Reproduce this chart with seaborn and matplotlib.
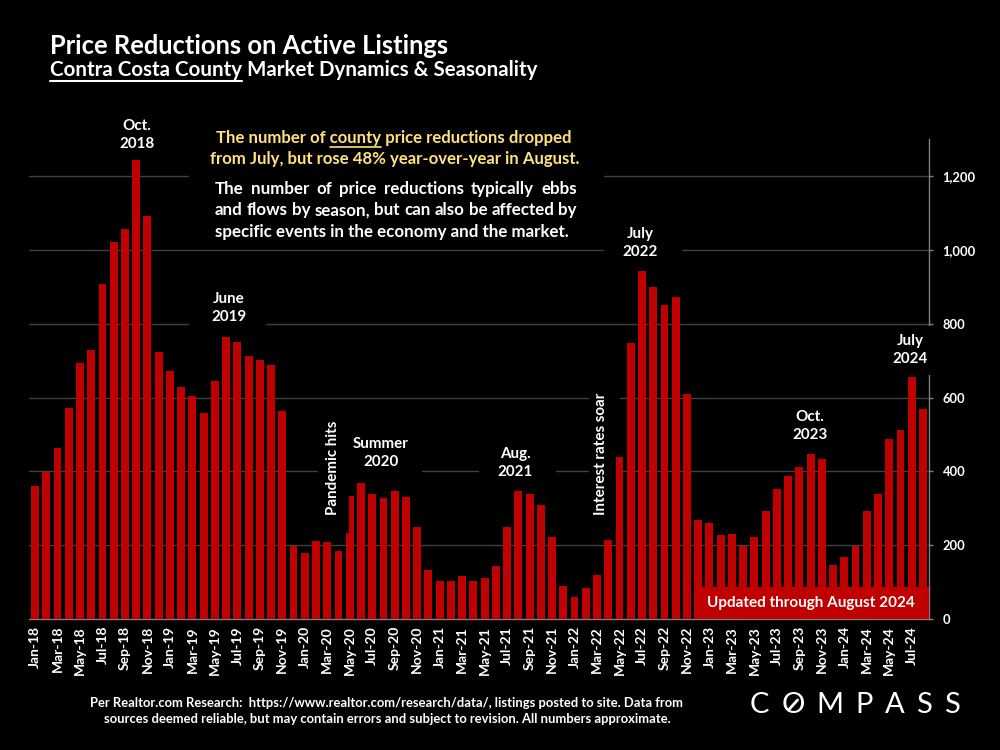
import numpy as np
import pandas as pd
import matplotlib
matplotlib.use("Agg")
import matplotlib.pyplot as plt
import matplotlib.transforms as mtransforms
from matplotlib.patches import Rectangle
from matplotlib.lines import Line2D
from matplotlib.ticker import FuncFormatter
import seaborn as sns

# ---------------- data ----------------
months = pd.date_range("2018-01-01", "2024-08-01", freq="MS").strftime("%b-%y").tolist()
reductions_2018 = [360, 398, 464, 573, 695, 728, 907, 1021, 1056, 1243, 1091, 724]
reductions_2019 = [672, 630, 604, 558, 646, 765, 750, 712, 702, 687, 564, 197]
reductions_2020 = [179, 211, 210, 185, 333, 368, 340, 327, 348, 331, 249, 133]
reductions_2021 = [104, 102, 117, 102, 111, 143, 248, 346, 338, 308, 223, 90]
reductions_2022 = [60, 83, 119, 215, 439, 748, 944, 900, 852, 872, 610, 267]
reductions_2023 = [260, 227, 230, 197, 222, 293, 352, 387, 413, 446, 434, 147]
reductions_2024 = [168, 198, 292, 340, 489, 512, 656, 569]
reductions = (reductions_2018 + reductions_2019 + reductions_2020 + reductions_2021
              + reductions_2022 + reductions_2023 + reductions_2024)
y_ticks = [0, 200, 400, 600, 800, 1000, 1200]

title = "Price Reductions on Active Listings"
subtitle_underlined = "Contra Costa County"
subtitle_rest = " Market Dynamics & Seasonality"
highlight_lines = ["The number of county price reductions dropped",
                   "from July, but rose 48% year-over-year in August."]
highlight_word = "The number of county"
body_lines = ["The number of price reductions typically ebbs",
              "and flows by season, but can also be affected by",
              "specific events in the economy and the market."]
footer_lines = ["Per Realtor.com Research:  https://www.realtor.com/research/data/, listings posted to site. Data from",
                "sources deemed reliable, but may contain errors and subject to revision. All numbers approximate."]
updated_text = "Updated through August 2024"
logo_letters = list("COMPASS")

RED = "#C00000"
GRID = "#404040"
AXGREY = "#7F7F7F"
YELLOW = "#FFE27C"

# ---------------- style ----------------
sns.set_theme(style="dark")
plt.rcParams["font.family"] = ["Lato", "DejaVu Sans"]
plt.rcParams["font.weight"] = "bold"
plt.rcParams["text.color"] = "white"

W, H = 1000, 750
ID = mtransforms.IdentityTransform()
fig = plt.figure(figsize=(W / 100, H / 100), dpi=100)
fig.patch.set_facecolor("black")
ax = fig.add_axes([29.4 / W, 1 - 619 / H, 899.2 / W, (619 - 139.3) / H])
ax.set_facecolor("black")
R = fig.canvas.get_renderer()


def measure(s, size, **kw):
    t = fig.text(0, 0, s, fontsize=size, transform=ID, **kw)
    w = t.get_window_extent(renderer=R).width
    t.remove()
    return w


def size_for(s, target, base=12.0, **kw):
    return base * target / measure(s, base, **kw)


df = pd.DataFrame({"month": months, "reductions": reductions})
sns.barplot(data=df, x="month", y="reductions", color=RED, saturation=1,
            width=0.7, linewidth=0, ax=ax, zorder=3)
n = len(months)
ax.set_xlim(-0.5, n - 0.5)
ax.set_ylim(0, 1300)
ax.set_xlabel("")
ax.set_ylabel("")

xsize = size_for("Jan-18", 42)
ysize = size_for("1,200", 32.7)

ax.set_xticks(np.arange(0, n, 2))
ax.set_xticklabels(months[::2], rotation=90)
ax.set_xticks(np.arange(-0.5, n, 2), minor=True)
ax.tick_params(axis="x", which="major", length=0, pad=5, labelsize=xsize, labelcolor="white")
ax.tick_params(axis="x", which="minor", length=5, width=1, color=AXGREY)

ax.yaxis.tick_right()
ax.set_yticks(y_ticks)
ax.yaxis.set_major_formatter(FuncFormatter(lambda v, p: f"{v:,.0f}"))
ax.tick_params(axis="y", which="major", length=3, width=1, color=AXGREY, pad=7,
               labelsize=ysize, labelcolor="white", left=False, right=True,
               labelleft=False, labelright=True)

ax.grid(axis="y", color=GRID, linewidth=1)
ax.grid(axis="x", visible=False)
ax.set_axisbelow(True)
for s in ["left", "top"]:
    ax.spines[s].set_visible(False)
for s in ["right", "bottom"]:
    ax.spines[s].set_visible(True)
    ax.spines[s].set_color(AXGREY)
    ax.spines[s].set_linewidth(1)


def pbox(x0, y0, x1, y1, z=2, color="black"):
    ax.add_patch(Rectangle((x0, H - y1), x1 - x0, y1 - y0, transform=ID,
                           facecolor=color, edgecolor="none", zorder=z, clip_on=False))


def ptxt(x, y, s, **kw):
    return ax.text(x, H - y, s, transform=ID, **kw)


# ---------------- label backgrounds ----------------
pbox(189, 118, 604, 244)          # commentary block
pbox(189, 283, 266, 331)          # June 2019
pbox(318, 405, 349, 533, z=4)     # Pandemic hits
pbox(341, 432, 422, 478)          # Summer 2020
pbox(479, 440, 556, 486)          # Aug. 2021
pbox(589, 385, 620, 528)          # Interest rates soar
pbox(604, 222, 682, 262)          # July 2022
pbox(876, 326, 934, 375, z=2.7)   # July 2024

# ---------------- event labels ----------------
ev = size_for("Interest rates soar", 122)
lab_kw = dict(ha="center", va="center", fontsize=ev, color="white", linespacing=1.3)
ptxt(137, 135, "Oct.\n2018", zorder=2.1, **lab_kw)
ptxt(229, 308, "June\n2019", zorder=2.1, **lab_kw)
ptxt(333, 468, "Pandemic hits", rotation=90, zorder=4.1, **lab_kw)
ptxt(381, 453, "Summer\n2020", zorder=2.1, **lab_kw)
ptxt(515, 463, "Aug.\n2021", zorder=2.1, **lab_kw)
ptxt(601, 454, "Interest rates soar", rotation=90, zorder=2.1, **lab_kw)
ptxt(640, 243, "July\n2022", zorder=2.1, **lab_kw)
ptxt(810, 426, "Oct.\n2023", zorder=2.1, **lab_kw)
ptxt(910, 350, "July\n2024", zorder=2.8, **lab_kw)

# ---------------- updated box ----------------
pbox(694, 587, 928.6, 619, z=4, color=RED)
usz = size_for(updated_text, 207)
ptxt(811, 603.5, updated_text, ha="center", va="center", fontsize=usz, color="white", zorder=5)

# ---------------- title & subtitle ----------------
tsz = size_for(title, 396)
fig.text(50, H - 53.6, title, transform=ID, ha="left", va="baseline", fontsize=tsz, color="white")
ssz = size_for(subtitle_underlined + subtitle_rest, 484)
fig.text(50, H - 76.5, subtitle_underlined + subtitle_rest, transform=ID, ha="left",
         va="baseline", fontsize=ssz, color="white")
uw = measure(subtitle_underlined, ssz)
fig.add_artist(Line2D([50, 50 + uw], [H - 81, H - 81], transform=ID, color="white", lw=1.5))

# ---------------- highlight (yellow) ----------------
hsz = size_for(highlight_lines[1], 370)
centers = [(393.5, 143.3), (395, 164.3)]
for line, (cx, by) in zip(highlight_lines, centers):
    fig.text(cx, H - by, line, transform=ID, ha="center", va="baseline", fontsize=hsz, color=YELLOW)
w_line1 = measure(highlight_lines[0], hsz)
w_pref = measure(highlight_word, hsz)
w_word = measure("county", hsz)
x_left = 393.5 - w_line1 / 2
fig.add_artist(Line2D([x_left + w_pref - w_word, x_left + w_pref], [H - 146.5, H - 146.5],
                      transform=ID, color=YELLOW, lw=1.2))

# ---------------- body (white, justified) ----------------
bsz = size_for(body_lines[1], 358)
left = 215
right = left + measure(body_lines[1], bsz)
baselines = [194, 215.3, 236.7]
for i, (line, by) in enumerate(zip(body_lines, baselines)):
    if i < len(body_lines) - 1:
        words = line.split()
        widths = [measure(w, bsz) for w in words]
        gap = (right - left - sum(widths)) / (len(words) - 1)
        x = left
        for w, wd in zip(words, widths):
            fig.text(x, H - by, w, transform=ID, ha="left", va="baseline", fontsize=bsz, color="white")
            x += wd + gap
    else:
        fig.text(left, H - by, line, transform=ID, ha="left", va="baseline", fontsize=bsz, color="white")

# ---------------- footer ----------------
fsz = size_for(footer_lines[0], 592)
for line, cy in zip(footer_lines, [702.7, 719]):
    fig.text(387, H - cy, line, transform=ID, ha="center", va="center", fontsize=fsz, color="white")

# ---------------- logo (evenly tracked letters) ----------------
logo_size = 21
lw_letters = [measure(ch, logo_size, fontweight="normal") for ch in logo_letters]
logo_left, logo_right = 750, 960
lgap = (logo_right - logo_left - sum(lw_letters)) / (len(logo_letters) - 1)
lx = logo_left
o_center = None
for ch, wd in zip(logo_letters, lw_letters):
    fig.text(lx, H - 705, ch, transform=ID, ha="left", va="center", fontsize=logo_size,
             fontweight="normal", color="white")
    if ch == "O" and o_center is None:
        o_center = lx + wd / 2
    lx += wd + lgap
fig.add_artist(Line2D([o_center - 4.5, o_center + 4.5], [H - 710, H - 700], transform=ID,
                      color="white", lw=2))

fig.savefig("out.png", dpi=100, facecolor="black")
